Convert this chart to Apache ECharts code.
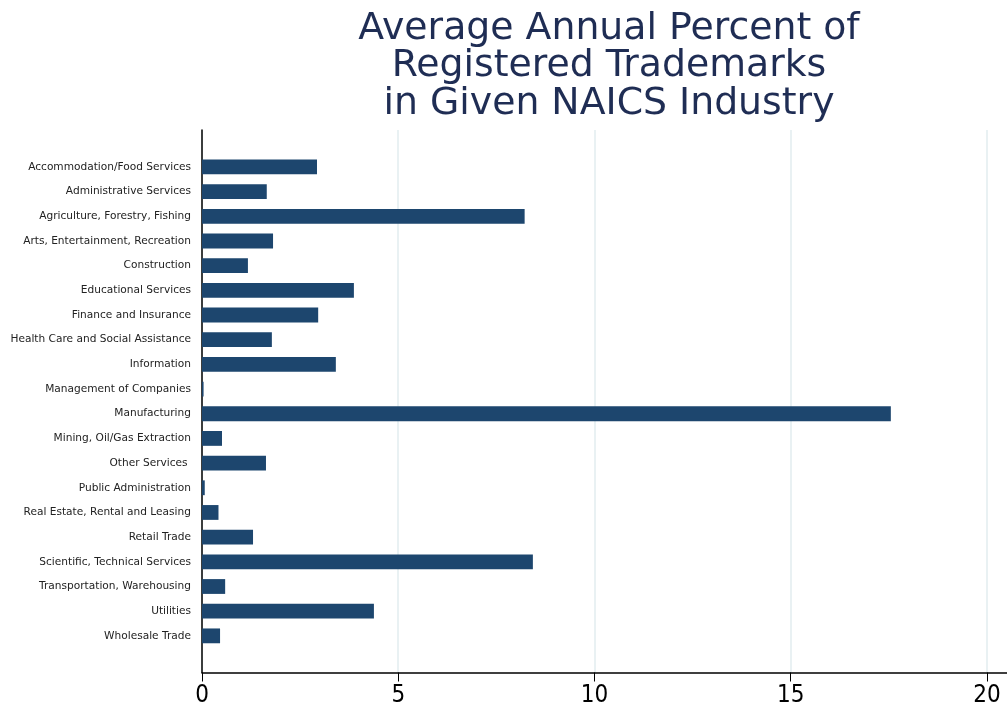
<!DOCTYPE html>
<html>
<head>
<meta charset="utf-8">
<script src="https://cdn.jsdelivr.net/npm/echarts@6/dist/echarts.min.js"></script>
<style>
  html, body { margin: 0; padding: 0; background: #fff; }
  #main { width: 1007px; height: 711px; }
</style>
</head>
<body>
<div id="main"></div>
<script>
// industries, top to bottom
const industries = [
  'Accommodation/Food Services',
  'Administrative Services',
  'Agriculture, Forestry, Fishing',
  'Arts, Entertainment, Recreation',
  'Construction',
  'Educational Services',
  'Finance and Insurance',
  'Health Care and Social Assistance',
  'Information',
  'Management of Companies',
  'Manufacturing',
  'Mining, Oil/Gas Extraction',
  'Other Services ',
  'Public Administration',
  'Real Estate, Rental and Leasing',
  'Retail Trade',
  'Scientific, Technical Services',
  'Transportation, Warehousing',
  'Utilities',
  'Wholesale Trade'
];
const percents = [
  2.93, 1.65, 8.22, 1.81, 1.17, 3.87, 2.96, 1.78, 3.41, 0.04,
  17.55, 0.51, 1.63, 0.07, 0.42, 1.30, 8.43, 0.59, 4.38, 0.46
];
const xTicks = [0, 5, 10, 15, 20];

const MyChart = echarts.init(document.getElementById('main'));
const font = 'DejaVu Sans';

let option = {
  animation: false,
  backgroundColor: '#fff',
  title: {
    text: 'Average Annual Percent of\nRegistered Trademarks\nin Given NAICS Industry',
    left: 604,
    top: 5,
    textAlign: 'center',
    textStyle: {
      fontFamily: font,
      fontSize: 37.8,
      fontWeight: 'normal',
      color: '#1f2d54',
      lineHeight: 37.5
    }
  },
  grid: [
    // bars
    { left: 202, right: 20, top: 154.6, bottom: 62.8 },
    // frame: axis lines + gridlines
    { left: 202, right: 0, top: 130, bottom: 38.5 }
  ],
  xAxis: [
    {
      gridIndex: 0, type: 'value', min: 0, max: 20, show: false
    },
    {
      gridIndex: 1, type: 'value', min: 0, max: 20.51, interval: 5,
      axisLine: { show: true, lineStyle: { color: '#000', width: 1.5 } },
      axisTick: { show: true, length: 9, customValues: xTicks, lineStyle: { color: '#000', width: 1 } },
      axisLabel: {
        customValues: xTicks, margin: 11,
        fontFamily: 'DejaVu Sans Condensed, DejaVu Sans', fontSize: 24, color: '#000'
      },
      splitLine: { show: true, lineStyle: { color: '#e9f1f3', width: 2 } }
    }
  ],
  yAxis: [
    {
      gridIndex: 0, type: 'category', data: industries, inverse: true,
      axisLine: { show: false },
      axisTick: { show: false },
      axisLabel: { fontFamily: font, fontSize: 10.6, color: '#222', margin: 11 }
    },
    {
      gridIndex: 1, type: 'value', min: 0, max: 1,
      axisLine: { show: true, onZero: false, lineStyle: { color: '#000', width: 1.5 } },
      axisTick: { show: false },
      axisLabel: { show: false },
      splitLine: { show: false }
    }
  ],
  series: [
    {
      type: 'bar',
      xAxisIndex: 0,
      yAxisIndex: 0,
      data: percents,
      barWidth: '60%',
      itemStyle: { color: '#1d466e' }
    }
  ]
};
MyChart.setOption(option);
</script>
</body>
</html>
